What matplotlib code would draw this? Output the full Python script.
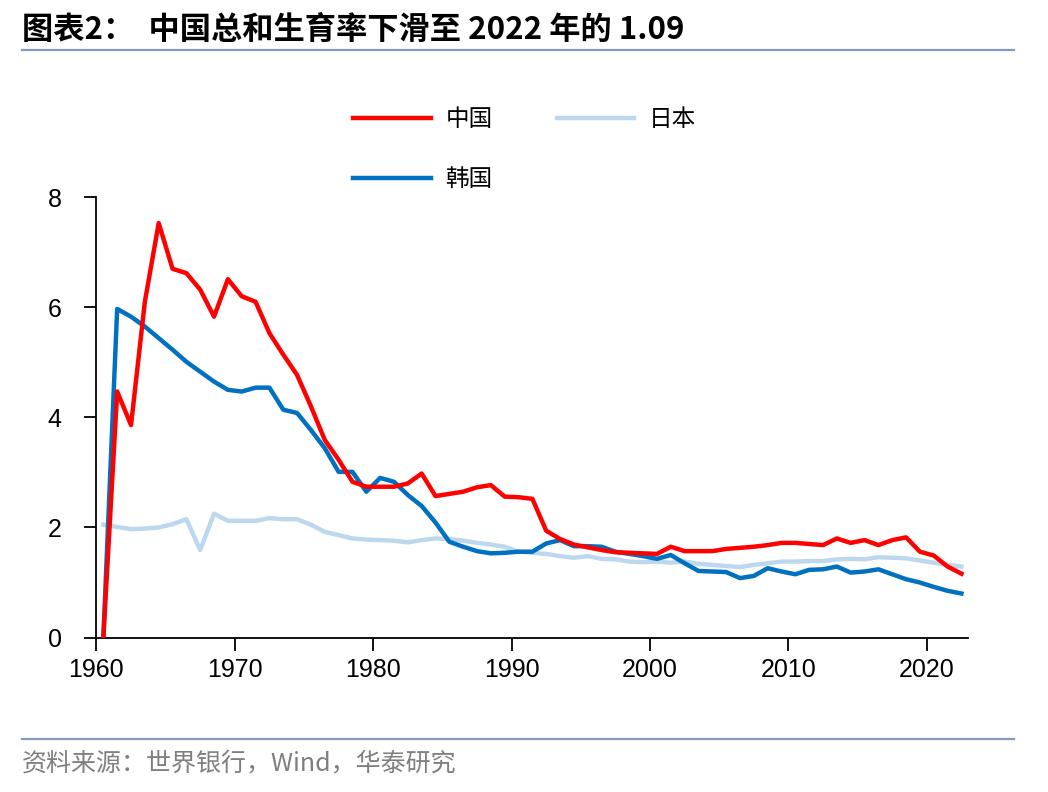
import matplotlib
matplotlib.use("Agg")
import matplotlib.pyplot as plt
import numpy as np

plt.rcParams['font.family'] = ['Liberation Sans', 'Noto Sans CJK SC', 'DejaVu Sans']

years = list(range(1960, 2023))

# 总和生育率 (1960 shown as 0 for China / Korea)
china = [0.0, 4.47, 3.86, 6.10, 7.53, 6.70, 6.62, 6.32, 5.83, 6.51,
         6.20, 6.10, 5.53, 5.14, 4.77, 4.20, 3.59, 3.23, 2.83, 2.74,
         2.74, 2.74, 2.80, 2.98, 2.57, 2.61, 2.65, 2.73, 2.77, 2.56,
         2.55, 2.52, 1.94, 1.79, 1.69, 1.64, 1.59, 1.55, 1.54, 1.53,
         1.52, 1.65, 1.57, 1.57, 1.57, 1.61, 1.63, 1.65, 1.68, 1.72,
         1.72, 1.70, 1.68, 1.80, 1.72, 1.77, 1.68, 1.77, 1.82, 1.56,
         1.49, 1.29, 1.16]
japan = [2.05, 2.01, 1.97, 1.98, 2.00, 2.06, 2.15, 1.59, 2.25, 2.12,
         2.12, 2.12, 2.17, 2.15, 2.15, 2.05, 1.92, 1.86, 1.80, 1.78,
         1.77, 1.76, 1.73, 1.77, 1.80, 1.79, 1.76, 1.72, 1.69, 1.65,
         1.56, 1.54, 1.52, 1.48, 1.45, 1.48, 1.43, 1.42, 1.38, 1.37,
         1.38, 1.36, 1.38, 1.34, 1.32, 1.30, 1.28, 1.32, 1.35, 1.38,
         1.38, 1.39, 1.39, 1.42, 1.43, 1.42, 1.46, 1.45, 1.44, 1.40,
         1.36, 1.32, 1.29]
korea = [0.0, 5.97, 5.83, 5.65, 5.44, 5.23, 5.01, 4.83, 4.65, 4.50,
         4.47, 4.54, 4.54, 4.14, 4.08, 3.77, 3.44, 3.01, 3.01, 2.65,
         2.90, 2.83, 2.59, 2.39, 2.09, 1.74, 1.65, 1.57, 1.53, 1.54,
         1.56, 1.56, 1.71, 1.77, 1.66, 1.66, 1.65, 1.56, 1.52, 1.48,
         1.43, 1.50, 1.35, 1.21, 1.20, 1.19, 1.08, 1.12, 1.26, 1.20,
         1.15, 1.23, 1.24, 1.29, 1.18, 1.20, 1.24, 1.15, 1.06, 1.00,
         0.92, 0.85, 0.80]

red = '#ff0000'
light = '#bdd7ee'
blue = '#0070c0'

fig = plt.figure(figsize=(10.48, 7.92), dpi=100)
ax = fig.add_axes([0.092, 0.195, 0.832, 0.556])

l1, = ax.plot(years, china, color=red, lw=3.2, label='中国', zorder=3)
l2, = ax.plot(years, japan, color=light, lw=3.2, label='日本', zorder=1)
l3, = ax.plot(years, korea, color=blue, lw=3.2, label='韩国', zorder=2)

# category-style axis: ticks sit on the boundary before each labelled year
ax.set_xlim(1959.5, 2022.5)
ax.set_ylim(0, 8)
ax.set_yticks([0, 2, 4, 6, 8])
ax.set_xticks(np.arange(1959.5, 2020, 10))
ax.set_xticklabels(['1960', '1970', '1980', '1990', '2000', '2010', '2020'])
ax.tick_params(axis='both', labelsize=18, length=9, width=1.3, color='black', pad=6)
ax.tick_params(axis='y', pad=16)
for s in ['top', 'right']:
    ax.spines[s].set_visible(False)
for s in ['left', 'bottom']:
    ax.spines[s].set_linewidth(1.3)

# column-wise fill: 中国 / 韩国 in col 1, 日本 in col 2
fig.legend(handles=[l1, l3, l2], loc='upper left', bbox_to_anchor=(0.326, 0.878),
           ncol=2, frameon=False, handlelength=3.3, handletextpad=0.6,
           columnspacing=2.7, labelspacing=1.55, borderpad=0,
           prop={'family': ['Noto Sans CJK SC'], 'size': 17})

fig.text(0.021, 0.962, '图表2：  中国总和生育率下滑至 2022 年的 1.09', fontsize=22.5,
         fontweight='bold', ha='left', va='center', family=['Noto Sans CJK SC'])
fig.add_artist(plt.Line2D([0.021, 0.968], [0.937, 0.937], color='#7f9cc0', lw=1.6))
fig.add_artist(plt.Line2D([0.021, 0.968], [0.067, 0.067], color='#7f9cc0', lw=1.6))
fig.text(0.021, 0.036, '资料来源：世界银行，Wind，华泰研究', fontsize=18, color='#7f7f7f',
         ha='left', va='center', family=['Noto Sans CJK SC', 'Liberation Sans'])

fig.savefig('out.png', dpi=100)
